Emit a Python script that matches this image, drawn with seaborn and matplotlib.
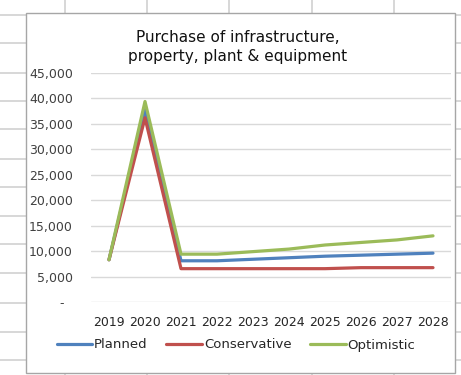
import numpy as np
import pandas as pd
import matplotlib
matplotlib.use("Agg")
import matplotlib.pyplot as plt
from matplotlib.patches import Rectangle
from matplotlib.ticker import FuncFormatter, MultipleLocator
import seaborn as sns

years = ["2019", "2020", "2021", "2022", "2023", "2024", "2025", "2026", "2027", "2028"]
planned = [8300, 37800, 8100, 8100, 8400, 8700, 9000, 9200, 9400, 9600]
conservative = [8300, 36200, 6550, 6550, 6550, 6550, 6550, 6750, 6750, 6750]
optimistic = [8300, 39400, 9400, 9400, 9900, 10400, 11200, 11700, 12200, 13000]
series_names = ["Planned", "Conservative", "Optimistic"]
colors = ["#4F81BD", "#C0504D", "#9BBB59"]
title = "Purchase of infrastructure,\nproperty, plant & equipment"

df = pd.DataFrame({"Year": years * 3,
                   "Value": planned + conservative + optimistic,
                   "Scenario": np.repeat(series_names, len(years))})
df["pos"] = df["Year"].map({y: i for i, y in enumerate(years)})

sns.set_theme(style="white")
plt.rcParams["font.family"] = ["DejaVu Sans"]

W, H = 461, 375
fig = plt.figure(figsize=(W / 100, H / 100), dpi=100)

# worksheet backdrop with cell grid and chart box
bg = fig.add_axes([0, 0, 1, 1], zorder=0)
bg.set_xlim(0, W)
bg.set_ylim(H, 0)
bg.axis("off")
for x in [65, 147, 229, 312, 394]:
    bg.plot([x, x], [0, H], color="#d4d4d4", lw=1.3)
for y in [15, 43, 73, 101, 129, 159, 187, 216, 244, 273, 303, 332, 360]:
    bg.plot([0, W], [y, y], color="#d4d4d4", lw=1.3)
bg.add_patch(Rectangle((26, 13), 429, 360, facecolor="white",
                       edgecolor="#a6a6a6", lw=1.0, zorder=3))
bg.text(238, 47, title, ha="center", va="center", fontsize=11,
        color="#111111", linespacing=1.4, zorder=4)

ax = fig.add_axes([91 / W, 1 - 302 / H, 360 / W, 229 / H], zorder=1)
ax.patch.set_alpha(0)
sns.lineplot(data=df, x="pos", y="Value", hue="Scenario", hue_order=series_names,
             palette=colors, linewidth=2.3, ax=ax, legend=True, sort=False)
ax.set_xlim(-0.5, len(years) - 0.5)
ax.set_ylim(0, 45000)
ax.set_xticks(range(len(years)))
ax.set_xticklabels(years)
ax.yaxis.set_major_locator(MultipleLocator(5000))
ax.yaxis.set_major_formatter(FuncFormatter(lambda v, p: "-  " if v == 0 else f"{v:,.0f}"))
ax.grid(axis="y", color="#d9d9d9", lw=1.0)
ax.set_axisbelow(True)
for s in ax.spines.values():
    s.set_visible(False)
ax.tick_params(axis="y", length=0, pad=13, labelsize=9, labelcolor="#404040")
ax.tick_params(axis="x", length=0, pad=10, labelsize=9, labelcolor="#262626")
ax.set_xlabel("")
ax.set_ylabel("")

handles, labels = ax.get_legend_handles_labels()
ax.legend_.remove()
fig.legend(handles, labels, loc="center", bbox_to_anchor=(236 / W, 1 - 345 / H),
           ncol=3, frameon=False, fontsize=9.5, handlelength=2.7, handletextpad=0.15,
           columnspacing=1.4, labelcolor="#262626")

fig.savefig("out.png", dpi=100)
